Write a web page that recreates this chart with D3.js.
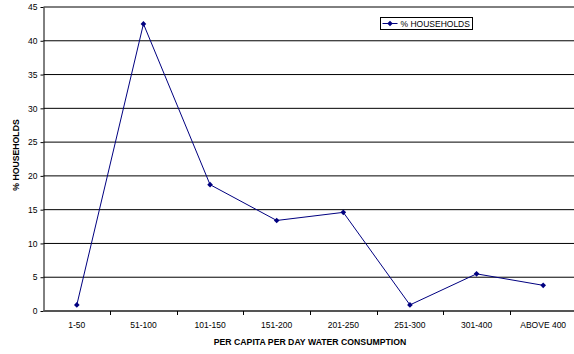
<!DOCTYPE html>
<html>
<head>
<meta charset="utf-8">
<script src="https://cdn.jsdelivr.net/npm/d3@7/dist/d3.min.js"></script>
<style>
  html, body { margin: 0; padding: 0; background: #fff; }
  svg { display: block; font-family: "Liberation Sans", Arial, sans-serif; }
</style>
</head>
<body>
<svg id="chart" width="574" height="354"></svg>
<script>
// Share of households by per-capita daily water consumption
const categories = ["1-50", "51-100", "101-150", "151-200", "201-250", "251-300", "301-400", "ABOVE 400"];
const households = [0.9, 42.5, 18.7, 13.4, 14.6, 0.9, 5.5, 3.8];
const yTicks = [0, 5, 10, 15, 20, 25, 30, 35, 40, 45];
const seriesName = "% HOUSEHOLDS";
const xTitle = "PER CAPITA PER DAY WATER CONSUMPTION";
const yTitle = "% HOUSEHOLDS";

const svg = d3.select("#chart");
const plotLeft = 43.5, plotRight = 576.5, plotTop = 7, plotBottom = 311;

const x = d3.scaleBand().domain(categories).range([plotLeft, plotRight]).paddingInner(0).paddingOuter(0);
const y = d3.scaleLinear().domain([0, 45]).range([plotBottom, plotTop]);

// Horizontal gridlines
svg.append("g")
  .selectAll("line")
  .data(yTicks.filter(d => d > 0))
  .join("line")
  .attr("x1", plotLeft).attr("x2", plotRight)
  .attr("y1", d => y(d)).attr("y2", d => y(d))
  .attr("stroke", "#000").attr("stroke-width", 1);

// Y axis
const yAxis = svg.append("g")
  .attr("transform", `translate(${plotLeft},0)`)
  .call(d3.axisLeft(y).tickValues(yTicks).tickSize(3).tickPadding(3).tickSizeOuter(0));
yAxis.select(".domain").attr("stroke", "#000");
yAxis.selectAll(".tick line").attr("stroke", "#000");
yAxis.selectAll(".tick text").attr("font-size", 8.5).attr("fill", "#000")
  .style("font-family", "Liberation Sans, Arial, sans-serif");

// X axis: ticks between categories
const xAxisG = svg.append("g").attr("transform", `translate(0,${plotBottom})`);
xAxisG.append("line")
  .attr("x1", plotLeft).attr("x2", plotRight).attr("y1", 0).attr("y2", 0)
  .attr("stroke", "#555").attr("stroke-width", 2);
xAxisG.selectAll("line.tick")
  .data(categories.slice(1))
  .join("line")
  .attr("class", "tick")
  .attr("x1", d => Math.round(x(d)) + 0.5).attr("x2", d => Math.round(x(d)) + 0.5)
  .attr("y1", 0).attr("y2", 4)
  .attr("stroke", "#000");
xAxisG.selectAll("text")
  .data(categories)
  .join("text")
  .attr("x", d => x(d) + x.bandwidth() / 2)
  .attr("y", 17)
  .attr("text-anchor", "middle")
  .attr("font-size", 8.5)
  .attr("fill", "#000")
  .text(d => d);

// Axis titles
svg.append("text")
  .attr("x", 310).attr("y", 345)
  .attr("text-anchor", "middle")
  .attr("font-size", 8.7).attr("font-weight", "bold")
  .text(xTitle);

svg.append("text")
  .attr("transform", "translate(19,155) rotate(-90)")
  .attr("text-anchor", "middle")
  .attr("font-size", 8.7).attr("font-weight", "bold")
  .text(yTitle);

// Series line and markers
const color = "#000080";
const pts = categories.map((c, i) => ({ c, v: households[i] }));
svg.append("path")
  .datum(pts)
  .attr("fill", "none")
  .attr("stroke", color)
  .attr("stroke-width", 1)
  .attr("d", d3.line().x(d => x(d.c) + x.bandwidth() / 2).y(d => y(d.v)));

const diamond = d3.symbol().type(d3.symbolDiamond2 || d3.symbolDiamond).size(20);
svg.append("g")
  .selectAll("path")
  .data(pts)
  .join("path")
  .attr("transform", d => `translate(${x(d.c) + x.bandwidth() / 2},${y(d.v)})`)
  .attr("d", diamond)
  .attr("fill", color);

// Legend
const lg = svg.append("g").attr("transform", "translate(380.5,17.5)");
lg.append("rect").attr("width", 92).attr("height", 12)
  .attr("fill", "#fff").attr("stroke", "#000").attr("stroke-width", 1);
lg.append("line").attr("x1", 2).attr("x2", 17).attr("y1", 6).attr("y2", 6)
  .attr("stroke", color).attr("stroke-width", 1);
lg.append("path").attr("transform", "translate(9.5,6)").attr("d", diamond).attr("fill", color);
lg.append("text").attr("x", 20).attr("y", 9)
  .attr("font-size", 8.5).attr("fill", "#000").text(seriesName);
</script>
</body>
</html>
